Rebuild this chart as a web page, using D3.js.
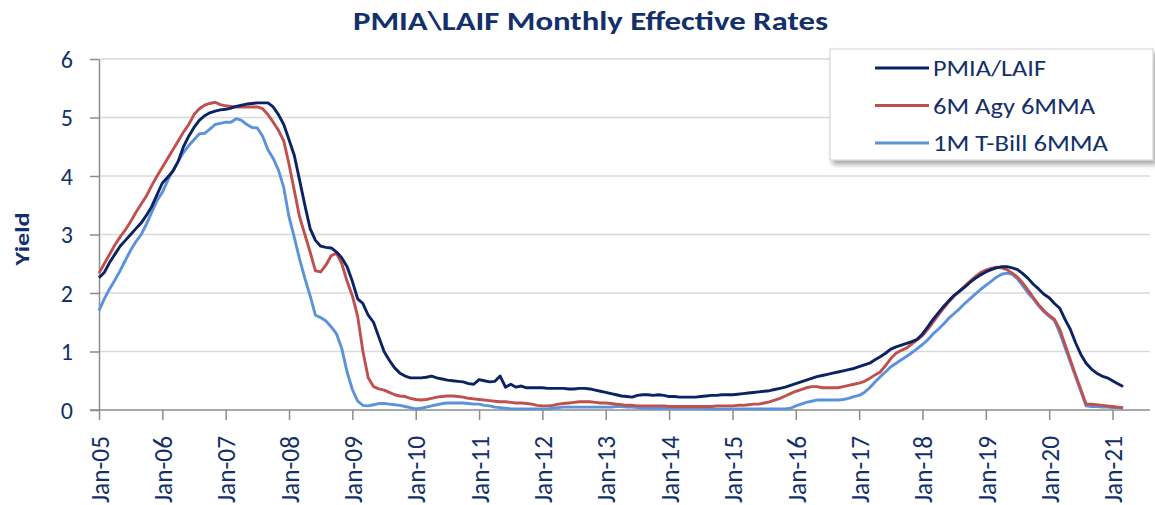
<!DOCTYPE html>
<html><head><meta charset="utf-8">
<script src="https://cdn.jsdelivr.net/npm/d3@7"></script>
<style>body{margin:0;background:#fff}svg{display:block}</style>
</head><body>
<svg id="chart" width="1155" height="505"></svg>
<script>
// ---------------- data ----------------
const chartTitle = "PMIA\\LAIF Monthly Effective Rates";
const yAxisTitle = "Yield";
const yTickValues = [0, 1, 2, 3, 4, 5, 6];
const xTickLabels = ["Jan-05","Jan-06","Jan-07","Jan-08","Jan-09","Jan-10","Jan-11","Jan-12",
  "Jan-13","Jan-14","Jan-15","Jan-16","Jan-17","Jan-18","Jan-19","Jan-20","Jan-21"];
const seriesNames = ["PMIA/LAIF", "6M Agy 6MMA", "1M T-Bill 6MMA"];
// monthly values, Jan-05 .. Mar-21
const pmiaLaif = [
  2.26,2.35,2.52,2.66,2.80,2.90,3.00,3.10,3.20,3.33,3.48,3.68,
  3.88,3.98,4.08,4.25,4.50,4.68,4.83,4.95,5.03,5.08,5.11,5.13,
  5.14,5.16,5.19,5.21,5.23,5.24,5.25,5.25,5.25,5.18,5.05,4.88,
  4.62,4.35,3.93,3.50,3.10,2.90,2.80,2.78,2.77,2.70,2.60,2.45,
  2.20,1.90,1.82,1.62,1.50,1.25,1.00,0.85,0.72,0.63,0.58,0.55,
  0.55,0.55,0.56,0.58,0.55,0.53,0.51,0.50,0.49,0.48,0.45,0.44,
  0.52,0.50,0.48,0.49,0.58,0.39,0.44,0.39,0.41,0.38,0.38,0.38,
  0.38,0.37,0.37,0.37,0.37,0.36,0.36,0.37,0.37,0.36,0.34,0.32,
  0.30,0.28,0.26,0.24,0.23,0.22,0.25,0.26,0.26,0.25,0.26,0.25,
  0.23,0.23,0.22,0.22,0.22,0.22,0.23,0.24,0.25,0.25,0.26,0.26,
  0.26,0.27,0.28,0.29,0.30,0.31,0.32,0.33,0.35,0.37,0.39,0.42,
  0.45,0.48,0.51,0.54,0.57,0.59,0.61,0.63,0.65,0.67,0.69,0.71,
  0.74,0.77,0.80,0.86,0.91,0.97,1.04,1.08,1.11,1.14,1.17,1.21,
  1.30,1.42,1.55,1.66,1.77,1.87,1.96,2.03,2.10,2.18,2.25,2.31,
  2.36,2.40,2.43,2.45,2.45,2.43,2.40,2.33,2.25,2.15,2.07,1.98,
  1.92,1.82,1.74,1.55,1.38,1.15,0.95,0.80,0.70,0.63,0.58,0.55,
  0.50,0.45,0.40
];
const agy6mma = [
  2.34,2.50,2.66,2.82,2.96,3.08,3.22,3.38,3.52,3.66,3.84,4.00,
  4.15,4.30,4.45,4.60,4.75,4.88,5.05,5.15,5.21,5.24,5.26,5.22,
  5.20,5.19,5.18,5.18,5.18,5.18,5.18,5.15,5.05,4.92,4.78,4.60,
  4.20,3.75,3.30,3.00,2.70,2.38,2.36,2.48,2.64,2.68,2.50,2.20,
  1.95,1.60,1.00,0.55,0.40,0.36,0.34,0.30,0.26,0.24,0.23,0.20,
  0.18,0.17,0.18,0.20,0.22,0.23,0.24,0.24,0.23,0.22,0.20,0.19,
  0.18,0.17,0.16,0.15,0.14,0.14,0.13,0.12,0.12,0.11,0.10,0.08,
  0.07,0.07,0.08,0.10,0.11,0.12,0.13,0.14,0.14,0.14,0.13,0.12,
  0.12,0.11,0.10,0.09,0.08,0.08,0.07,0.07,0.07,0.07,0.07,0.07,
  0.06,0.06,0.06,0.06,0.06,0.06,0.06,0.06,0.06,0.07,0.07,0.07,
  0.07,0.08,0.08,0.09,0.10,0.10,0.12,0.14,0.17,0.20,0.24,0.28,
  0.32,0.35,0.38,0.40,0.40,0.38,0.38,0.38,0.38,0.40,0.42,0.44,
  0.46,0.49,0.54,0.60,0.65,0.76,0.88,0.97,1.02,1.06,1.13,1.20,
  1.27,1.38,1.50,1.62,1.74,1.85,1.95,2.03,2.12,2.20,2.28,2.35,
  2.39,2.42,2.44,2.43,2.40,2.34,2.27,2.17,2.05,1.92,1.80,1.70,
  1.62,1.55,1.38,1.12,0.86,0.60,0.35,0.10,0.10,0.09,0.08,0.07,
  0.06,0.05,0.04
];
const tbill6mma = [
  1.70,1.90,2.07,2.22,2.38,2.56,2.73,2.88,3.00,3.18,3.38,3.58,
  3.72,3.92,4.10,4.25,4.40,4.52,4.62,4.72,4.73,4.80,4.88,4.90,
  4.92,4.92,4.98,4.95,4.88,4.83,4.82,4.68,4.45,4.30,4.10,3.80,
  3.30,2.95,2.58,2.25,1.95,1.62,1.58,1.52,1.42,1.30,1.05,0.65,
  0.35,0.15,0.08,0.07,0.09,0.11,0.11,0.10,0.09,0.08,0.06,0.04,
  0.02,0.03,0.05,0.07,0.09,0.11,0.12,0.12,0.12,0.12,0.11,0.10,
  0.10,0.08,0.07,0.05,0.04,0.03,0.02,0.02,0.02,0.02,0.02,0.02,
  0.02,0.02,0.03,0.04,0.05,0.05,0.05,0.05,0.05,0.05,0.05,0.05,
  0.05,0.05,0.06,0.06,0.05,0.05,0.04,0.03,0.03,0.03,0.03,0.03,
  0.03,0.03,0.03,0.03,0.03,0.03,0.03,0.02,0.02,0.02,0.02,0.02,
  0.02,0.02,0.02,0.02,0.02,0.02,0.02,0.02,0.02,0.02,0.02,0.03,
  0.07,0.10,0.13,0.15,0.17,0.17,0.17,0.17,0.17,0.18,0.20,0.23,
  0.25,0.30,0.38,0.48,0.57,0.65,0.74,0.80,0.86,0.92,0.98,1.05,
  1.12,1.20,1.30,1.38,1.47,1.57,1.65,1.73,1.82,1.90,1.98,2.06,
  2.13,2.20,2.27,2.32,2.34,2.32,2.24,2.12,2.00,1.90,1.78,1.68,
  1.60,1.53,1.32,1.07,0.82,0.57,0.32,0.07,0.06,0.06,0.05,0.05,
  0.04,0.04,0.03
];

(function () {
  // ---------------- styles ----------------
  const colors = ["#0B2365", "#C0504D", "#5B93DA"];
  const textColor = "#13306A";
  const font = "Carlito, Lato, 'Open Sans', sans-serif";

  const svg = d3.select("#chart");
  const pL = 99, pR = 1150, pT = 59, pB = 410;

  const x = d3.scaleLinear().domain([0, 199.1]).range([pL, pR]);
  const y = d3.scaleLinear().domain([0, 6]).range([pB, pT]);

  const defs = svg.append("defs");
  const f = defs.append("filter").attr("id", "shadow").attr("x", "-10%").attr("y", "-10%").attr("width", "130%").attr("height", "140%");
  f.append("feDropShadow").attr("dx", 3).attr("dy", 4).attr("stdDeviation", 2.5).attr("flood-color", "#000").attr("flood-opacity", 0.35);

  // gridlines
  svg.append("g").selectAll("line").data(yTickValues.filter(v => v > 0)).join("line")
    .attr("x1", pL).attr("x2", pR).attr("y1", d => y(d)).attr("y2", d => y(d))
    .attr("stroke", "#D9D9D9").attr("stroke-width", 1.5);

  // y axis
  const yAxis = svg.append("g").attr("transform", `translate(${pL},0)`)
    .call(d3.axisLeft(y).tickValues(yTickValues).tickSize(9).tickFormat("").tickSizeOuter(0));
  yAxis.select(".domain").attr("stroke", "#8C8C8C").attr("stroke-width", 1.5);
  yAxis.selectAll(".tick line").attr("stroke", "#8C8C8C").attr("stroke-width", 1.5);

  svg.append("g").selectAll("text").data(yTickValues).join("text")
    .attr("x", 73).attr("y", d => y(d)).attr("dy", "0.36em")
    .attr("text-anchor", "end").attr("fill", textColor)
    .attr("font-family", font).attr("font-size", 24)
    .text(d => d);

  // x axis
  const xTickVals = xTickLabels.map((d, i) => i * 12);
  const xAxis = svg.append("g").attr("transform", `translate(0,${pB})`)
    .call(d3.axisBottom(x).tickValues(xTickVals).tickSize(10).tickFormat("").tickSizeOuter(0));
  xAxis.select(".domain").attr("stroke", "#8C8C8C").attr("stroke-width", 1.5)
    .attr("d", `M${pL - 9},0H${pR}`);
  xAxis.selectAll(".tick line").attr("stroke", "#8C8C8C").attr("stroke-width", 1.5);

  svg.append("g").selectAll("text").data(xTickLabels).join("text")
    .attr("transform", (d, i) => `translate(${x(i * 12)},436) rotate(-90)`)
    .attr("dy", "0.36em").attr("text-anchor", "end").attr("fill", textColor)
    .attr("font-family", font).attr("font-size", 27)
    .attr("textLength", 67).attr("lengthAdjust", "spacingAndGlyphs")
    .text(d => d);

  // lines
  const line = d3.line().x((d, i) => x(i)).y(d => y(d));
  const drawOrder = [[tbill6mma, colors[2]], [agy6mma, colors[1]], [pmiaLaif, colors[0]]];
  svg.append("g").selectAll("path").data(drawOrder).join("path")
    .attr("d", d => line(d[0])).attr("fill", "none")
    .attr("stroke", d => d[1])
    .attr("stroke-width", 2.9).attr("stroke-linejoin", "round");

  // title
  svg.append("text").attr("x", 590.5).attr("y", 30).attr("text-anchor", "middle")
    .attr("fill", textColor).attr("font-family", font).attr("font-weight", "bold")
    .attr("font-size", 27).attr("textLength", 475).attr("lengthAdjust", "spacingAndGlyphs")
    .text(chartTitle);

  // y axis title
  svg.append("text").attr("transform", "translate(21,239) rotate(-90)")
    .attr("text-anchor", "middle").attr("dy", "0.36em")
    .attr("fill", textColor).attr("font-family", font).attr("font-weight", "bold")
    .attr("font-size", 21).attr("textLength", 53).attr("lengthAdjust", "spacingAndGlyphs")
    .text(yAxisTitle);

  // legend
  const lg = svg.append("g");
  lg.append("rect").attr("x", 830).attr("y", 49).attr("width", 323).attr("height", 111)
    .attr("fill", "#fff").attr("stroke", "#D0D0D0").attr("stroke-width", 1)
    .attr("filter", "url(#shadow)");
  const rowsY = [68, 105.5, 143];
  const legWidths = [113, 162, 175];
  seriesNames.forEach((name, i) => {
    lg.append("line").attr("x1", 875).attr("x2", 929).attr("y1", rowsY[i]).attr("y2", rowsY[i])
      .attr("stroke", colors[i]).attr("stroke-width", 3);
    lg.append("text").attr("x", 933).attr("y", rowsY[i]).attr("dy", "0.36em")
      .attr("fill", textColor).attr("font-family", font).attr("font-size", 23)
      .attr("textLength", legWidths[i]).attr("lengthAdjust", "spacingAndGlyphs")
      .text(name);
  });
})();
</script>
</body></html>
